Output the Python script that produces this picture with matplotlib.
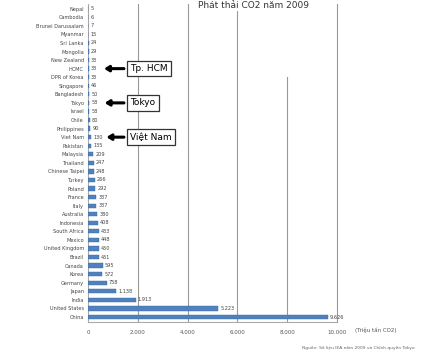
import matplotlib.pyplot as plt
from matplotlib.ticker import FuncFormatter

# Lượng phát thải CO2 theo quốc gia / thành phố (triệu tấn)
quoc_gia = ['Nepal', 'Cambodia', 'Brunei Darussalam', 'Myanmar', 'Sri Lanka',
            'Mongolia', 'New Zealand', 'HCMC', 'DPR of Korea', 'Singapore',
            'Bangladesh', 'Tokyo', 'Israel', 'Chile', 'Philippines', 'Viet Nam',
            'Pakistan', 'Malaysia', 'Thailand', 'Chinese Taipei', 'Turkey',
            'Poland', 'France', 'Italy', 'Australia', 'Indonesia', 'South Africa',
            'Mexico', 'United Kingdom', 'Brazil', 'Canada', 'Korea', 'Germany',
            'Japan', 'India', 'United States', 'China']
phat_thai = [5, 6, 7, 15, 24, 29, 33, 33, 33, 46, 50, 58, 58, 80, 90, 130,
             135, 209, 247, 248, 266, 292, 337, 337, 380, 408, 433, 448, 450,
             451, 595, 572, 758, 1138, 1913, 5223, 9626]
moc_x = [0, 2000, 4000, 6000, 8000, 10000]

def dinh_dang(v):
    return f'{int(v):,}'.replace(',', '.')

fig = plt.figure(figsize=(4.23, 3.54), dpi=100)
ax = fig.add_axes([0.208, 0.090, 0.589, 0.900])

y = range(len(quoc_gia))
ax.barh(y, phat_thai, height=0.5, color='#4f81bd', edgecolor='#3a6aa5', linewidth=0.3, zorder=3)
for i, v in enumerate(phat_thai):
    ax.text(v + 80, i, dinh_dang(v), va='center', ha='left', fontsize=3.6, color='#444444')

ax.set_yticks(list(y))
ax.set_yticklabels(quoc_gia, fontsize=3.6, color='#444444')
ax.set_ylim(len(quoc_gia) - 0.4, -0.6)
ax.set_xlim(0, 10000)
ax.set_xticks(moc_x)
ax.xaxis.set_major_formatter(FuncFormatter(lambda v, p: dinh_dang(v)))
ax.tick_params(axis='x', labelsize=4, colors='#555555', length=0, pad=6)
ax.tick_params(axis='y', length=0, pad=3)

# lưới dọc
for t in moc_x[1:4]:
    ax.axvline(t, color='#999999', linewidth=0.8, zorder=1)
ax.axvline(8000, ymax=0.77, color='#999999', linewidth=0.8, zorder=1)

ax.spines['top'].set_visible(False)
ax.spines['right'].set_color('#999999')
ax.spines['left'].set_color('#aaaaaa')
ax.spines['bottom'].set_color('#aaaaaa')

ax.text(1.07, -0.026, '(Triệu tấn CO2)', transform=ax.transAxes, fontsize=4,
        color='#555555', va='center', ha='left')

# chú thích có mũi tên
box = dict(boxstyle='square,pad=0.35', fc='white', ec='#333333', lw=0.9)
arrow = dict(arrowstyle='-|>,head_width=0.25,head_length=0.4', color='black', lw=2.2)
for ten, nhan in [('HCMC', 'Tp. HCM'), ('Tokyo', 'Tokyo'), ('Viet Nam', 'Việt Nam')]:
    i = quoc_gia.index(ten)
    ax.annotate(nhan, xy=(phat_thai[i] + 500, i), xytext=(1700, i),
                fontsize=6.5, va='center', ha='left', bbox=box,
                arrowprops=arrow, zorder=5)

fig.text(0.60, 0.997, 'Phát thải CO2 năm 2009', fontsize=6.5, ha='center', va='top',
         color='#333333', zorder=6,
         bbox=dict(boxstyle='square,pad=0.1', fc='white', ec='none'))
fig.text(0.98, 0.012, 'Nguồn: Số liệu IEA năm 2009 và Chính quyền Tokyo', fontsize=3.2,
         ha='right', va='bottom', color='#666666')

fig.savefig('out.png', dpi=100, facecolor='white')
